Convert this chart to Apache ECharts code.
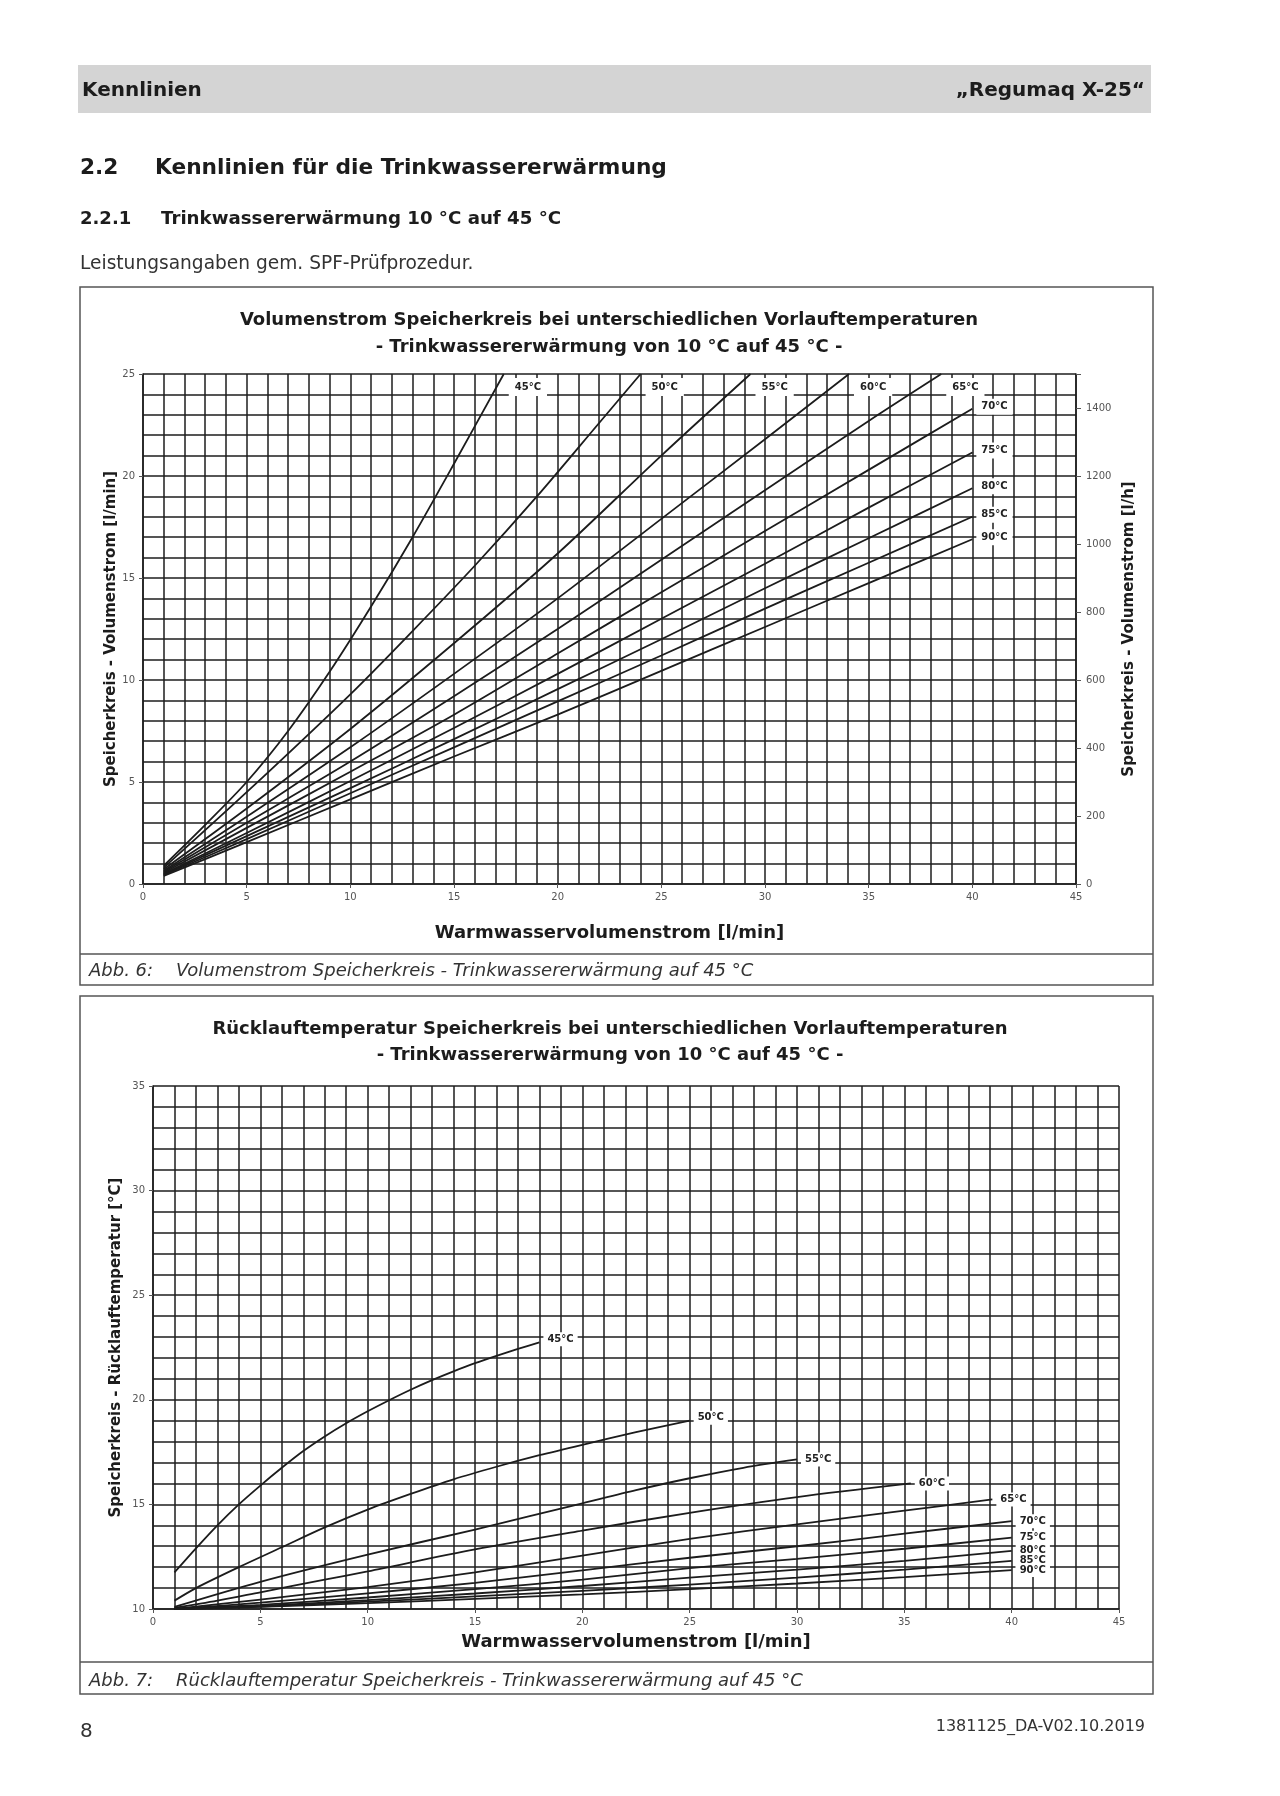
<!DOCTYPE html>
<html>
<head>
<meta charset="utf-8">
<script src="https://cdn.jsdelivr.net/npm/echarts@6/dist/echarts.min.js"></script>
<style>
html,body{margin:0;padding:0;background:#fff;}
#page{width:1280px;height:1796px;}
</style>
</head>
<body>
<div id="page"></div>
<script>
// ---------- Data ----------
// Chart 1: Volumenstrom Speicherkreis [l/min] vs Warmwasservolumenstrom [l/min]
const flowNames = ['45°C','50°C','55°C','60°C','65°C','70°C','75°C','80°C','85°C','90°C'];
const flow45 = [[1,0.9],[3,2.9],[5,5.0],[7,7.5],[9,10.4],[11,13.6],[13,17.0],[15,20.6],[17.4,25]];
const flow50 = [[1,0.8],[5,4.5],[10,9.3],[13,12.4],[16,15.6],[19,19.0],[22,22.6],[24,25]];
const flow55 = [[1,0.72],[5,3.7],[10,7.6],[15,11.8],[20,16.2],[25,21.0],[29.3,25]];
const flow60 = [[1,0.65],[5,3.3],[10,6.7],[15,10.3],[20,14.0],[25,17.9],[30,21.8],[34.05,25]];
const flow65 = [[1,0.6],[5,3.0],[10,6.0],[15,9.2],[20,12.5],[25,15.9],[30,19.3],[35,22.7],[38.5,25]];
const flow70 = [[1,0.55],[5,2.75],[10,5.5],[15,8.3],[20,11.3],[25,14.3],[30,17.3],[35,20.3],[40,23.3]];
const flow75 = [[1,0.5],[5,2.5],[10,5.05],[15,7.65],[20,10.3],[25,13.0],[30,15.7],[35,18.45],[40,21.15]];
const flow80 = [[1,0.47],[5,2.35],[10,4.7],[15,7.1],[20,9.55],[25,12.0],[30,14.5],[35,16.95],[40,19.4]];
const flow85 = [[1,0.44],[5,2.2],[10,4.45],[15,6.7],[20,8.95],[25,11.2],[30,13.5],[35,15.75],[40,18.0]];
const flow90 = [[1,0.4],[5,2.05],[10,4.15],[15,6.25],[20,8.3],[25,10.45],[30,12.6],[35,14.75],[40,16.9]];

// Chart 2: Rücklauftemperatur Speicherkreis [°C] vs Warmwasservolumenstrom [l/min]
const retNames = ['45°C','50°C','55°C','60°C','65°C','70°C','75°C','80°C','85°C','90°C'];
const ret45 = [[1,11.75],[2,12.9],[3,14.0],[4,15.0],[5,15.9],[6,16.75],[7,17.55],[8,18.25],[9,18.88],[10,19.45],[11,19.98],[12,20.48],[13,20.94],[14,21.36],[15,21.75],[16,22.1],[17,22.43],[18,22.75]];
const ret50 = [[1,10.4],[2,11.0],[4,12.0],[6,12.95],[8,13.9],[10,14.75],[12,15.5],[14,16.2],[16,16.8],[18,17.35],[20,17.85],[22.5,18.45],[25,19.0]];
const ret55 = [[1,10.1],[5,11.3],[10,12.6],[15,13.8],[20,15.05],[22.5,15.68],[25,16.25],[27.5,16.75],[30,17.15]];
const ret60 = [[1,10.05],[3,10.4],[5,10.8],[8,11.4],[10,11.8],[15,12.85],[20,13.75],[25,14.6],[30,15.35],[35.3,16.0]];
const ret65 = [[1,10.0],[5,10.45],[10,11.05],[15,11.75],[20,12.55],[25,13.35],[30,14.05],[35,14.7],[39.1,15.24]];
const ret70 = [[1,10.0],[5,10.3],[10,10.75],[15,11.25],[20,11.85],[25,12.45],[30,13.0],[35,13.6],[40,14.2]];
const ret75 = [[1,10.0],[5,10.2],[10,10.55],[15,10.95],[20,11.4],[25,11.95],[30,12.4],[35,12.88],[40,13.41]];
const ret80 = [[1,10.0],[5,10.15],[10,10.42],[15,10.74],[20,11.1],[25,11.5],[30,11.88],[35,12.3],[40,12.78]];
const ret85 = [[1,10.0],[5,10.12],[10,10.35],[15,10.6],[20,10.87],[25,11.17],[30,11.5],[35,11.88],[40,12.3]];
const ret90 = [[1,10.0],[5,10.1],[10,10.28],[15,10.48],[20,10.7],[25,10.95],[30,11.22],[35,11.52],[40,11.86]];

// Axis tick settings
const xTicks = {min:0, max:45, interval:5};
const yFlowTicks = {min:0, max:25, interval:5};
const yFlowHTicks = {min:0, max:1500, interval:200};
const yRetTicks = {min:10, max:35, interval:5};

// ---------- Styling ----------
const FONT = '"DejaVu Sans", "Liberation Sans", sans-serif';
const INK = '#1c1c1c';
const GRID = '#1e1e1e';

const flowData = [flow45,flow50,flow55,flow60,flow65,flow70,flow75,flow80,flow85,flow90];
const retData = [ret45,ret50,ret55,ret60,ret65,ret70,ret75,ret80,ret85,ret90];

function valueAxis(t, extra) {
  return Object.assign({
    type:'value', min:t.min, max:t.max, interval:t.interval,
    nameMoveOverlap:false,
    axisLine:{show:true, lineStyle:{color:GRID, width:1.5}},
    axisTick:{show:true, length:4, lineStyle:{color:'#555', width:1}},
    axisLabel:{color:'#555', fontSize:10, fontFamily:FONT, margin:8, showMinLabel:true, showMaxLabel:true},
    splitLine:{show:true, lineStyle:{color:GRID, width:1.5}},
    minorTick:{show:false, splitNumber:5},
    minorSplitLine:{show:true, lineStyle:{color:GRID, width:1.5}},
    nameTextStyle:{color:INK, fontFamily:FONT, fontWeight:'bold', fontSize:15}
  }, extra || {});
}

const labelBase = {
  show:true, formatter:'{a}', color:'#222', fontFamily:FONT, fontSize:10, fontWeight:'bold',
  backgroundColor:'#fff', distance:2
};

const series = [];
flowData.forEach((d, i) => {
  const last = d[d.length-1];
  const topExit = last[1] >= yFlowTicks.max;
  series.push({
    name: flowNames[i], type:'line', xAxisIndex:0, yAxisIndex:0,
    data:d, smooth:0.3, symbol:'none', silent:true, clip:true,
    lineStyle:{color:INK, width:1.8},
    endLabel: Object.assign({}, labelBase, topExit
      ? {padding:[4,6], offset:[3,13]}
      : {padding:[3,5], offset:[2,-2]})
  });
});
retData.forEach((d, i) => {
  series.push({
    name: retNames[i], type:'line', xAxisIndex:1, yAxisIndex:2,
    data:d, smooth:0.3, symbol:'none', silent:true, clip:true,
    lineStyle:{color:INK, width:1.8},
    endLabel: Object.assign({}, labelBase, {padding:[2,4], offset:[2, i < 2 ? -3 : 0]})
  });
});

function txt(x, y, text, font, opts) {
  return {type:'text', x:x, y:y, silent:true,
    style:Object.assign({text:text, font:font, fill:INK, textAlign:'left', textVerticalAlign:'middle',
      align:'left', verticalAlign:'middle'}, opts || {})};
}
function alignOpt(a){ return {textAlign:a, align:a}; }

const graphics = [
  // header bar
  {type:'rect', shape:{x:78, y:65, width:1073, height:48}, style:{fill:'#d4d4d4'}, silent:true},
  txt(82, 91, 'Kennlinien', 'bold 20px ' + FONT),
  txt(1145, 91, '\u201eRegumaq X-25\u201c', 'bold 20px ' + FONT, alignOpt('right')),
  // section headings
  txt(80, 168, '2.2', 'bold 21.7px ' + FONT),
  txt(155, 168, 'Kennlinien f\u00fcr die Trinkwassererw\u00e4rmung', 'bold 21.7px ' + FONT),
  txt(80, 219, '2.2.1', 'bold 18px ' + FONT),
  txt(161, 219, 'Trinkwassererw\u00e4rmung 10 \u00b0C auf 45 \u00b0C', 'bold 18.2px ' + FONT),
  txt(80, 264, 'Leistungsangaben gem. SPF-Pr\u00fcfprozedur.', '18.6px ' + FONT, {fill:'#333'}),
  // box 1
  {type:'rect', shape:{x:80, y:287, width:1073, height:698}, style:{fill:'none', stroke:'#555', lineWidth:1.5}, silent:true},
  {type:'line', shape:{x1:80, y1:954, x2:1153, y2:954}, style:{stroke:'#555', lineWidth:1.5}, silent:true},
  txt(609, 320, 'Volumenstrom Speicherkreis bei unterschiedlichen Vorlauftemperaturen', 'bold 18px ' + FONT, alignOpt('center')),
  txt(609, 347, '- Trinkwassererw\u00e4rmung von 10 \u00b0C auf 45 \u00b0C -', 'bold 18px ' + FONT, alignOpt('center')),
  txt(89, 971, 'Abb. 6:', 'italic 18px ' + FONT, {fill:'#333'}),
  txt(176, 971, 'Volumenstrom Speicherkreis - Trinkwassererw\u00e4rmung auf 45 \u00b0C', 'italic 18px ' + FONT, {fill:'#333'}),
  // box 2
  {type:'rect', shape:{x:80, y:996, width:1073, height:698}, style:{fill:'none', stroke:'#555', lineWidth:1.5}, silent:true},
  {type:'line', shape:{x1:80, y1:1662, x2:1153, y2:1662}, style:{stroke:'#555', lineWidth:1.5}, silent:true},
  txt(610, 1029.5, 'R\u00fccklauftemperatur Speicherkreis bei unterschiedlichen Vorlauftemperaturen', 'bold 18px ' + FONT, alignOpt('center')),
  txt(610, 1055.5, '- Trinkwassererw\u00e4rmung von 10 \u00b0C auf 45 \u00b0C -', 'bold 18px ' + FONT, alignOpt('center')),
  txt(89, 1681, 'Abb. 7:', 'italic 18px ' + FONT, {fill:'#333'}),
  txt(176, 1681, 'R\u00fccklauftemperatur Speicherkreis - Trinkwassererw\u00e4rmung auf 45 \u00b0C', 'italic 18px ' + FONT, {fill:'#333'}),
  // footer
  txt(80, 1732, '8', '20px ' + FONT, {fill:'#333'}),
  txt(1145, 1727, '1381125_DA-V02.10.2019', '16px ' + FONT, Object.assign({fill:'#333'}, alignOpt('right')))
];

const option = {
  animation:false,
  backgroundColor:'#fff',
  textStyle:{fontFamily:FONT},
  graphic:{elements:graphics},
  grid:[
    {left:143, top:374, width:933, height:510, containLabel:false, show:false},
    {left:153, top:1086, width:966, height:523, containLabel:false, show:false}
  ],
  xAxis:[
    valueAxis(xTicks, {gridIndex:0, name:'Warmwasservolumenstrom [l/min]', nameLocation:'middle', nameGap:40,
      nameTextStyle:{color:INK, fontFamily:FONT, fontWeight:'bold', fontSize:18}}),
    valueAxis(xTicks, {gridIndex:1, name:'Warmwasservolumenstrom [l/min]', nameLocation:'middle', nameGap:24,
      nameTextStyle:{color:INK, fontFamily:FONT, fontWeight:'bold', fontSize:18}})
  ],
  yAxis:[
    valueAxis(yFlowTicks, {gridIndex:0, position:'left', name:'Speicherkreis - Volumenstrom [l/min]', nameLocation:'middle', nameGap:24}),
    valueAxis(yFlowHTicks, {gridIndex:0, position:'right', name:'Speicherkreis - Volumenstrom [l/h]', nameLocation:'middle', nameGap:46,
      splitLine:{show:false}, minorSplitLine:{show:false},
      axisTick:{show:true, length:5, lineStyle:{color:'#555', width:1}},
      axisLabel:{color:'#555', fontSize:10, fontFamily:FONT, margin:10,
        formatter:v => (v % yFlowHTicks.interval === 0 ? String(v) : '')}}),
    valueAxis(yRetTicks, {gridIndex:1, position:'left', name:'Speicherkreis - R\u00fccklauftemperatur [\u00b0C]', nameLocation:'middle', nameGap:29})
  ],
  series:series
};

const chart = echarts.init(document.getElementById('page'), null, {renderer:'canvas', width:1280, height:1796});
chart.setOption(option);
</script>
</body>
</html>
